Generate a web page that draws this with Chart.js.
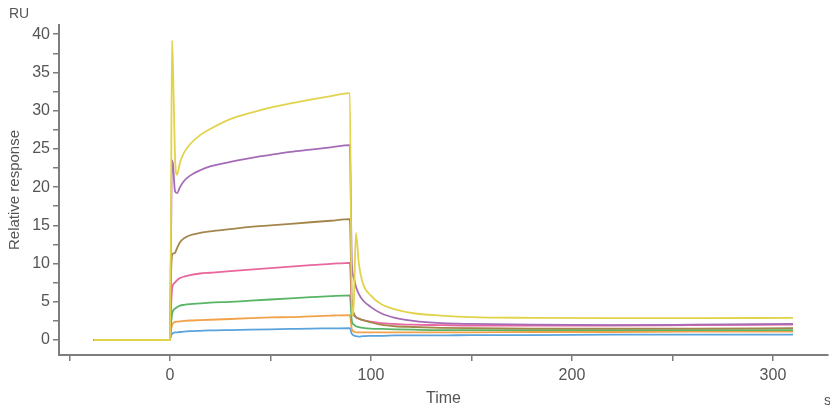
<!DOCTYPE html>
<html>
<head>
<meta charset="utf-8">
<script src="https://cdn.jsdelivr.net/npm/chart.js@4"></script>
<style>
  html, body { margin: 0; padding: 0; background: #fff; }
  #wrap { width: 830px; height: 410px; }
</style>
</head>
<body>
<div id="wrap"><canvas id="sensorgram"></canvas></div>
<script>
// time points (s) shared by all curves
const times = [-38, 0, 0.5, 1, 1.5, 2.5, 3.5, 5, 7, 10, 15, 20, 30, 40, 50, 60, 70, 80, 89.5,
    90.5, 91.5, 92.5, 94, 96, 100, 105, 112, 121, 135, 150, 180, 220, 260, 310];

const yellowRU = [0, 0, 15, 39.2, 36, 24, 21.6, 23.2, 24.5, 25.6, 26.8, 27.6, 28.9, 29.7, 30.4, 30.95, 31.45, 31.9, 32.3,
    3.2, 5, 14, 10, 7.4, 5.8, 4.7, 4.0, 3.5, 3.2, 3.0, 2.9, 2.85, 2.85, 2.9];
const purpleRU = [0, 0, 12, 23.5, 23, 19.5, 19.2, 20.0, 20.8, 21.5, 22.2, 22.7, 23.3, 23.8, 24.2, 24.6, 24.9, 25.2, 25.5,
    10, 8.1, 7, 6, 5.2, 4.3, 3.5, 2.9, 2.5, 2.2, 2.1, 2.0, 1.95, 2.0, 2.1];
const brownRU = [0, 0, 8, 11, 11.3, 11.4, 12.0, 12.8, 13.3, 13.7, 14.0, 14.2, 14.5, 14.8, 15.0, 15.2, 15.4, 15.6, 15.8,
    5, 3.5, 3.0, 2.8, 2.6, 2.3, 2.0, 1.8, 1.7, 1.6, 1.55, 1.5, 1.5, 1.5, 1.55];
const pinkRU = [0, 0, 4, 6.5, 7.2, 7.5, 7.8, 8.1, 8.3, 8.5, 8.7, 8.8, 9.0, 9.2, 9.4, 9.6, 9.8, 9.95, 10.1,
    4, 3.2, 3.0, 2.8, 2.6, 2.4, 2.2, 2.1, 2.0, 1.95, 1.9, 1.9, 1.9, 1.95, 2.0];
const greenRU = [0, 0, 2, 3.3, 3.8, 4.1, 4.3, 4.5, 4.6, 4.7, 4.8, 4.9, 5.0, 5.15, 5.3, 5.45, 5.6, 5.75, 5.85,
    2.5, 2.0, 1.8, 1.7, 1.6, 1.5, 1.45, 1.4, 1.35, 1.3, 1.3, 1.3, 1.3, 1.3, 1.3];
const orangeRU = [0, 0, 1.2, 1.9, 2.2, 2.35, 2.4, 2.45, 2.5, 2.55, 2.6, 2.65, 2.75, 2.85, 2.95, 3.0, 3.1, 3.2, 3.25,
    1.4, 1.1, 1.0, 1.0, 1.0, 1.0, 1.0, 1.0, 1.0, 1.0, 1.0, 1.05, 1.05, 1.1, 1.1];
const blueRU = [0, 0, 0.5, 0.8, 0.9, 1.0, 1.0, 1.05, 1.1, 1.15, 1.2, 1.25, 1.3, 1.35, 1.4, 1.45, 1.5, 1.52, 1.55,
    0.8, 0.6, 0.5, 0.45, 0.5, 0.55, 0.55, 0.6, 0.6, 0.6, 0.65, 0.65, 0.7, 0.7, 0.7];

const xTickValues = [-50, 0, 50, 100, 150, 200, 250, 300];
const yTickValues = [0, 2.5, 5, 7.5, 10, 12.5, 15, 17.5, 20, 22.5, 25, 27.5, 30, 32.5, 35, 37.5, 40];

const curves = [
    { values: yellowRU, color: '#e2d34c' },
    { values: purpleRU, color: '#a66bb6' },
    { values: brownRU, color: '#a3864c' },
    { values: pinkRU, color: '#e9679e' },
    { values: greenRU, color: '#58b566' },
    { values: orangeRU, color: '#f3a24c' },
    { values: blueRU, color: '#5aa3dc' },
];

const axisGrey = '#7d7d7d';
const textGrey = '#555';
const fontFamily = '"Liberation Sans", Arial, sans-serif';

const cornerLabels = {
    id: 'cornerLabels',
    afterDraw(chart) {
        const ctx = chart.ctx;
        ctx.save();
        ctx.fillStyle = textGrey;
        ctx.font = '14px ' + fontFamily;
        ctx.textBaseline = 'middle';
        ctx.textAlign = 'left';
        ctx.fillText('RU', 9, 14);
        ctx.fillText('s', 824, 401);
        ctx.restore();
    }
};

new Chart(document.getElementById('sensorgram'), {
    type: 'line',
    data: {
        datasets: curves.map(function (c) {
            return {
                data: times.map(function (t, i) { return { x: t, y: c.values[i] }; }),
                borderColor: c.color,
                borderWidth: 1.8,
                pointRadius: 0,
                cubicInterpolationMode: 'monotone',
                fill: false,
            };
        }),
    },
    options: {
        responsive: true,
        maintainAspectRatio: false,
        animation: false,
        layout: { padding: { top: 25, right: 2, left: 0, bottom: 0 } },
        plugins: {
            legend: { display: false },
            tooltip: { enabled: false },
        },
        scales: {
            x: {
                type: 'linear',
                min: -55.2,
                max: 327.4,
                afterBuildTicks: function (scale) {
                    scale.ticks = xTickValues.map(function (v) { return { value: v }; });
                },
                afterFit: function (scale) { scale.height = 55; },
                border: { color: axisGrey, width: 2 },
                grid: { drawOnChartArea: false, drawTicks: true, tickLength: 6, color: axisGrey, lineWidth: 1.5 },
                ticks: {
                    color: textGrey,
                    font: { size: 16, family: fontFamily },
                    padding: 5,
                    maxRotation: 0,
                    autoSkip: false,
                    callback: function (v) { return v % 100 === 0 ? String(v) : ''; },
                },
                title: {
                    display: true,
                    text: 'Time',
                    color: textGrey,
                    font: { size: 16, family: fontFamily },
                    padding: { top: 0, bottom: 2 },
                },
            },
            y: {
                type: 'linear',
                min: -1.96,
                max: 41.2,
                afterBuildTicks: function (scale) {
                    scale.ticks = yTickValues.map(function (v) { return { value: v }; });
                },
                afterFit: function (scale) { scale.width = 59; },
                border: { color: axisGrey, width: 2 },
                grid: { drawOnChartArea: false, drawTicks: true, tickLength: 6, color: axisGrey, lineWidth: 1.5 },
                ticks: {
                    color: textGrey,
                    font: { size: 16, family: fontFamily },
                    padding: 3,
                    autoSkip: false,
                    callback: function (v) { return v % 5 === 0 ? String(v) : ''; },
                },
                title: {
                    display: true,
                    text: 'Relative response',
                    color: textGrey,
                    font: { size: 15, family: fontFamily },
                    padding: { top: 6, bottom: 4 },
                },
            },
        },
    },
    plugins: [cornerLabels],
});
</script>
</body>
</html>
